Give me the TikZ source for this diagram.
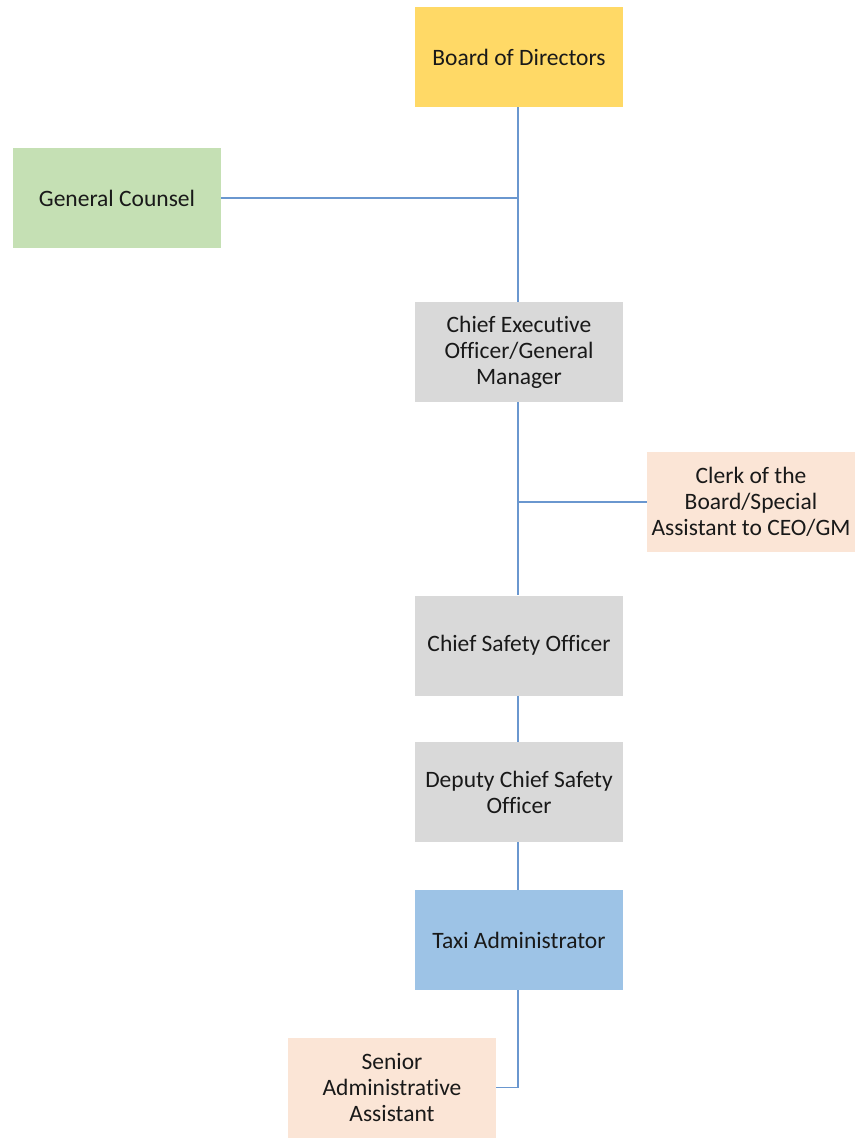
\documentclass[tikz,border=0pt]{standalone}
\usepackage{fontspec}
\setmainfont{Carlito}[Ligatures=CommonOff]
\definecolor{cyellow}{HTML}{FFD966}
\definecolor{cgreen}{HTML}{C5E0B4}
\definecolor{cgray}{HTML}{D9D9D9}
\definecolor{cpeach}{HTML}{FBE5D6}
\definecolor{cblue}{HTML}{9DC3E6}
\definecolor{cline}{HTML}{6A97CF}
\begin{document}
\begin{tikzpicture}[x=1pt,y=-1pt,
  box/.style={minimum width=208pt,minimum height=100pt,inner sep=2pt,align=center,
    font=\fontsize{23.5}{26}\selectfont,text=black!90},
  link/.style={draw=cline,line width=1.5pt}]
\useasboundingbox[fill=white] (0,0) rectangle (860,1141);
\node[box,fill=cyellow] (bod) at (519,57) {Board of Directors};
\node[box,fill=cgreen] (gc) at (117,198) {General Counsel};
\node[box,fill=cgray] (ceo) at (519,352) {Chief Executive\\Officer/General\\Manager};
\node[box,fill=cpeach] (clerk) at (751,502) {Clerk of the\\Board/Special\\Assistant to CEO/GM};
\node[box,fill=cgray] (cso) at (519,645.5) {Chief Safety Officer};
\node[box,fill=cgray] (dcso) at (519,792) {Deputy Chief Safety\\Officer};
\node[box,fill=cblue] (taxi) at (519,940) {Taxi Administrator};
\node[box,fill=cpeach] (saa) at (392,1087.5) {Senior\\Administrative\\Assistant};
\coordinate (j1) at (518,198);
\coordinate (j2) at (518,502);
\draw[link] (bod.south -| j1) -- (ceo.north -| j1);
\draw[link] (gc.east) -- (j1);
\draw[link] (ceo.south -| j2) -- (cso.north -| j2);
\draw[link] (clerk.west) -- (j2);
\draw[link] (cso.south -| j2) -- (dcso.north -| j2);
\draw[link] (dcso.south -| j2) -- (taxi.north -| j2);
\draw[link] (taxi.south -| j2) |- (saa.east);
\end{tikzpicture}
\end{document}
